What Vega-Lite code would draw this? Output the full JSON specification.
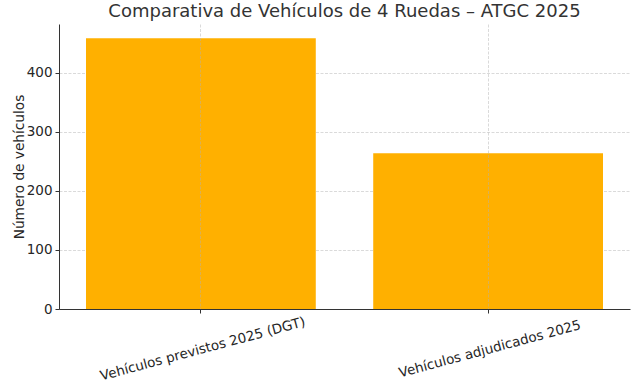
{
  "$schema": "https://vega.github.io/schema/vega-lite/v6.json",
  "width": 571,
  "height": 285,
  "autosize": {"type": "none"},
  "padding": {"left": 59, "top": 24, "right": 13, "bottom": 76},
  "background": "white",
  "title": {
    "text": "Comparativa de Vehículos de 4 Ruedas – ATGC 2025",
    "font": "DejaVu Sans",
    "fontSize": 18,
    "fontWeight": "normal",
    "color": "#333333",
    "anchor": "middle",
    "offset": 3
  },
  "config": {
    "view": {"stroke": null},
    "font": "DejaVu Sans"
  },
  "data": {
    "values": [
      {"categoria": "Vehículos previstos 2025 (DGT)", "vehiculos": 459},
      {"categoria": "Vehículos adjudicados 2025", "vehiculos": 264}
    ]
  },
  "mark": {"type": "bar", "color": "#ffb000"},
  "encoding": {
    "x": {
      "field": "categoria",
      "type": "nominal",
      "sort": null,
      "scale": {"paddingInner": 0.2, "paddingOuter": 0.094},
      "axis": {
        "title": null,
        "zindex": 1,
        "labelAngle": -15,
        "labelAlign": "center",
        "labelBaseline": "top",
        "labelPadding": 29,
        "labelLimit": 0,
        "labelFontSize": 13.5,
        "labelColor": "#262626",
        "labelFont": "DejaVu Sans",
        "tickSize": 4,
        "tickColor": "#333333",
        "domainColor": "#333333",
        "domainWidth": 1,
        "grid": true,
        "gridColor": "#b0b0b0",
        "gridOpacity": 0.6,
        "gridDash": [3, 1.5],
        "gridWidth": 0.8
      }
    },
    "y": {
      "field": "vehiculos",
      "type": "quantitative",
      "scale": {"domain": [0, 483], "nice": false},
      "axis": {
        "title": "Número de vehículos",
        "titleFont": "DejaVu Sans",
        "titleFontSize": 13.7,
        "titleFontWeight": "normal",
        "titleColor": "#262626",
        "titleX": -33,
        "titleY": 142.5,
        "values": [0, 100, 200, 300, 400],
        "labelFontSize": 13.5,
        "labelColor": "#262626",
        "labelFont": "DejaVu Sans",
        "labelPadding": 3,
        "tickSize": 4,
        "tickColor": "#333333",
        "domainColor": "#333333",
        "domainWidth": 1,
        "grid": true,
        "gridColor": "#b0b0b0",
        "gridOpacity": 0.6,
        "gridDash": [3, 1.5],
        "gridWidth": 0.8
      }
    }
  }
}
